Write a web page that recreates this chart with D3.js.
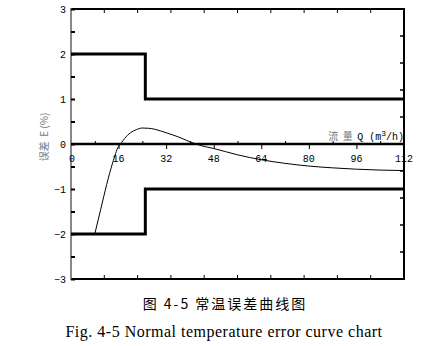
<!DOCTYPE html>
<html><head><meta charset="utf-8">
<script src="https://cdn.jsdelivr.net/npm/d3@7"></script>
<style>body{margin:0;background:#fff}svg{display:block}</style>
</head><body>
<svg id="c" width="433" height="346"></svg>
<script>
const xTicks = [0, 16, 32, 48, 64, 80, 96, 112];
const yTicks = [3, 2, 1, 0, -1, -2, -3];
const limitQ = [0, 25, 25, 112];
const upperLimit = [2, 2, 1, 1];
const lowerLimit = [-2, -2, -1, -1];
const curveQ = [8, 10, 12, 14, 16, 17, 18, 20, 22, 24, 26, 28, 32, 36, 40, 42, 44, 48, 56, 64, 72, 80, 88, 96, 104, 112];
const curveE = [-2, -1.45, -0.9, -0.42, -0.05, 0.03, 0.12, 0.25, 0.32, 0.355, 0.35, 0.33, 0.25, 0.16, 0.05, 0.0, -0.04, -0.1, -0.24, -0.35, -0.43, -0.49, -0.53, -0.56, -0.58, -0.59];
const yLabel = "误差 E (%)";
const xLabelCn = "流  量  ";
const titleCn = "图 4-5 常温误差曲线图";
const titleEn = "Fig. 4-5 Normal temperature error curve chart";

const svg = d3.select("#c");
const L = 71, R = 404, T = 9, B = 279;
const x = d3.scaleLinear().domain([0, 112]).range([L, R]);
const y = d3.scaleLinear().domain([-3, 3]).range([B, T]);
const mono = "'Liberation Mono', monospace";
const serif = "'Liberation Serif', serif";

// frame: top, right, bottom black; left gray
svg.append("line").attr("x1", L).attr("x2", R + 1).attr("y1", T).attr("y2", T).attr("stroke", "#000").attr("stroke-width", 2);
svg.append("line").attr("x1", L).attr("x2", R + 1).attr("y1", B).attr("y2", B).attr("stroke", "#000").attr("stroke-width", 2);
svg.append("line").attr("x1", R).attr("x2", R).attr("y1", T).attr("y2", B).attr("stroke", "#000").attr("stroke-width", 2);
svg.append("line").attr("x1", L).attr("x2", L).attr("y1", T - 1).attr("y2", B + 1).attr("stroke", "#888").attr("stroke-width", 2);

// top/bottom ticks (10 divisions)
const frameX = d3.range(1, 10).map(i => i * 11.2);
frameX.forEach(q => {
  svg.append("line").attr("x1", x(q)).attr("x2", x(q)).attr("y1", T).attr("y2", T + 4).attr("stroke", "#000");
  svg.append("line").attr("x1", x(q)).attr("x2", x(q)).attr("y1", B).attr("y2", B - 4).attr("stroke", "#000");
});
// right ticks (10 divisions)
d3.range(1, 10).map(i => -3 + i * 0.6).forEach(v => {
  svg.append("line").attr("x1", R).attr("x2", R - 4).attr("y1", y(v)).attr("y2", y(v)).attr("stroke", "#000").attr("stroke-width", 1.5);
});

// left axis
const yAxis = d3.axisRight(y).tickValues(d3.range(-3, 3.01, 0.5)).tickSize(4).tickFormat("");
const gy = svg.append("g").attr("transform", `translate(${L},0)`).call(yAxis);
gy.select(".domain").remove();
gy.selectAll("line").attr("stroke", "#000").attr("stroke-width", 2);
svg.selectAll(".ylab").data(yTicks).join("text")
  .attr("x", 66).attr("y", d => y(d) + 4)
  .attr("text-anchor", "end").attr("font-family", mono).attr("font-size", 10)
  .text(d => d < 0 ? "\u2212" + Math.abs(d) : d);

// x axis at zero
svg.append("line").attr("x1", L).attr("x2", R).attr("y1", y(0)).attr("y2", y(0)).attr("stroke", "#000").attr("stroke-width", 2.5);
const xAxis = d3.axisBottom(x).tickValues(xTicks.slice(1, -1)).tickSize(5).tickFormat("");
const gx = svg.append("g").attr("transform", `translate(0,${y(0)})`).call(xAxis);
gx.select(".domain").remove();
const xAxisMinor = d3.axisTop(x).tickValues(d3.range(8, 112, 16)).tickSize(3).tickFormat("");
const gxm = svg.append("g").attr("transform", `translate(0,${y(0)})`).call(xAxisMinor);
gxm.select(".domain").remove();
svg.selectAll(".xlab").data(xTicks).join("text")
  .attr("x", d => x(d) + (d === 0 ? 1 : 0)).attr("y", 162)
  .attr("text-anchor", "middle").attr("font-family", mono).attr("font-size", 10)
  .text(d => d);

// limits
const lim = d3.line().x((d, i) => x(limitQ[i])).y(d => y(d));
[upperLimit, lowerLimit].forEach(arr => {
  svg.append("path").attr("d", lim(arr)).attr("fill", "none").attr("stroke", "#000").attr("stroke-width", 3);
});

// error curve
const cl = d3.line().x((d, i) => x(curveQ[i])).y(d => y(d)).curve(d3.curveMonotoneX);
svg.append("path").attr("d", cl(curveE)).attr("fill", "none").attr("stroke", "#000").attr("stroke-width", 1);

// x label
const xl = svg.append("text").attr("x", 404).attr("y", 140).attr("text-anchor", "end")
  .attr("font-family", mono).attr("font-size", 10).attr("xml:space", "preserve");
xl.append("tspan").attr("fill", "#777").attr("font-family", "'Noto Sans CJK SC'").attr("font-size", 10).text(xLabelCn);
xl.append("tspan").attr("fill", "#000").text("Q (m");
xl.append("tspan").attr("font-size", 8).attr("dy", -4).text("3");
xl.append("tspan").attr("dy", 4).text("/h)");

// y label
svg.append("text").attr("transform", "translate(48,137) rotate(-90)")
  .attr("text-anchor", "middle").attr("font-family", "'Noto Sans CJK SC'").attr("font-size", 10)
  .attr("fill", "#777").attr("xml:space", "preserve").text(yLabel.replace(" ", "  "));

// captions
svg.append("text").attr("x", 225).attr("y", 309).attr("text-anchor", "middle")
  .attr("font-family", "'Noto Sans CJK SC'").attr("font-size", 14).attr("letter-spacing", 2).attr("fill", "#000").text(titleCn);
svg.append("text").attr("x", 224).attr("y", 337).attr("text-anchor", "middle")
  .attr("font-family", serif).attr("font-size", 16).attr("letter-spacing", 0.5).attr("fill", "#000").text(titleEn);
</script>
</body></html>
